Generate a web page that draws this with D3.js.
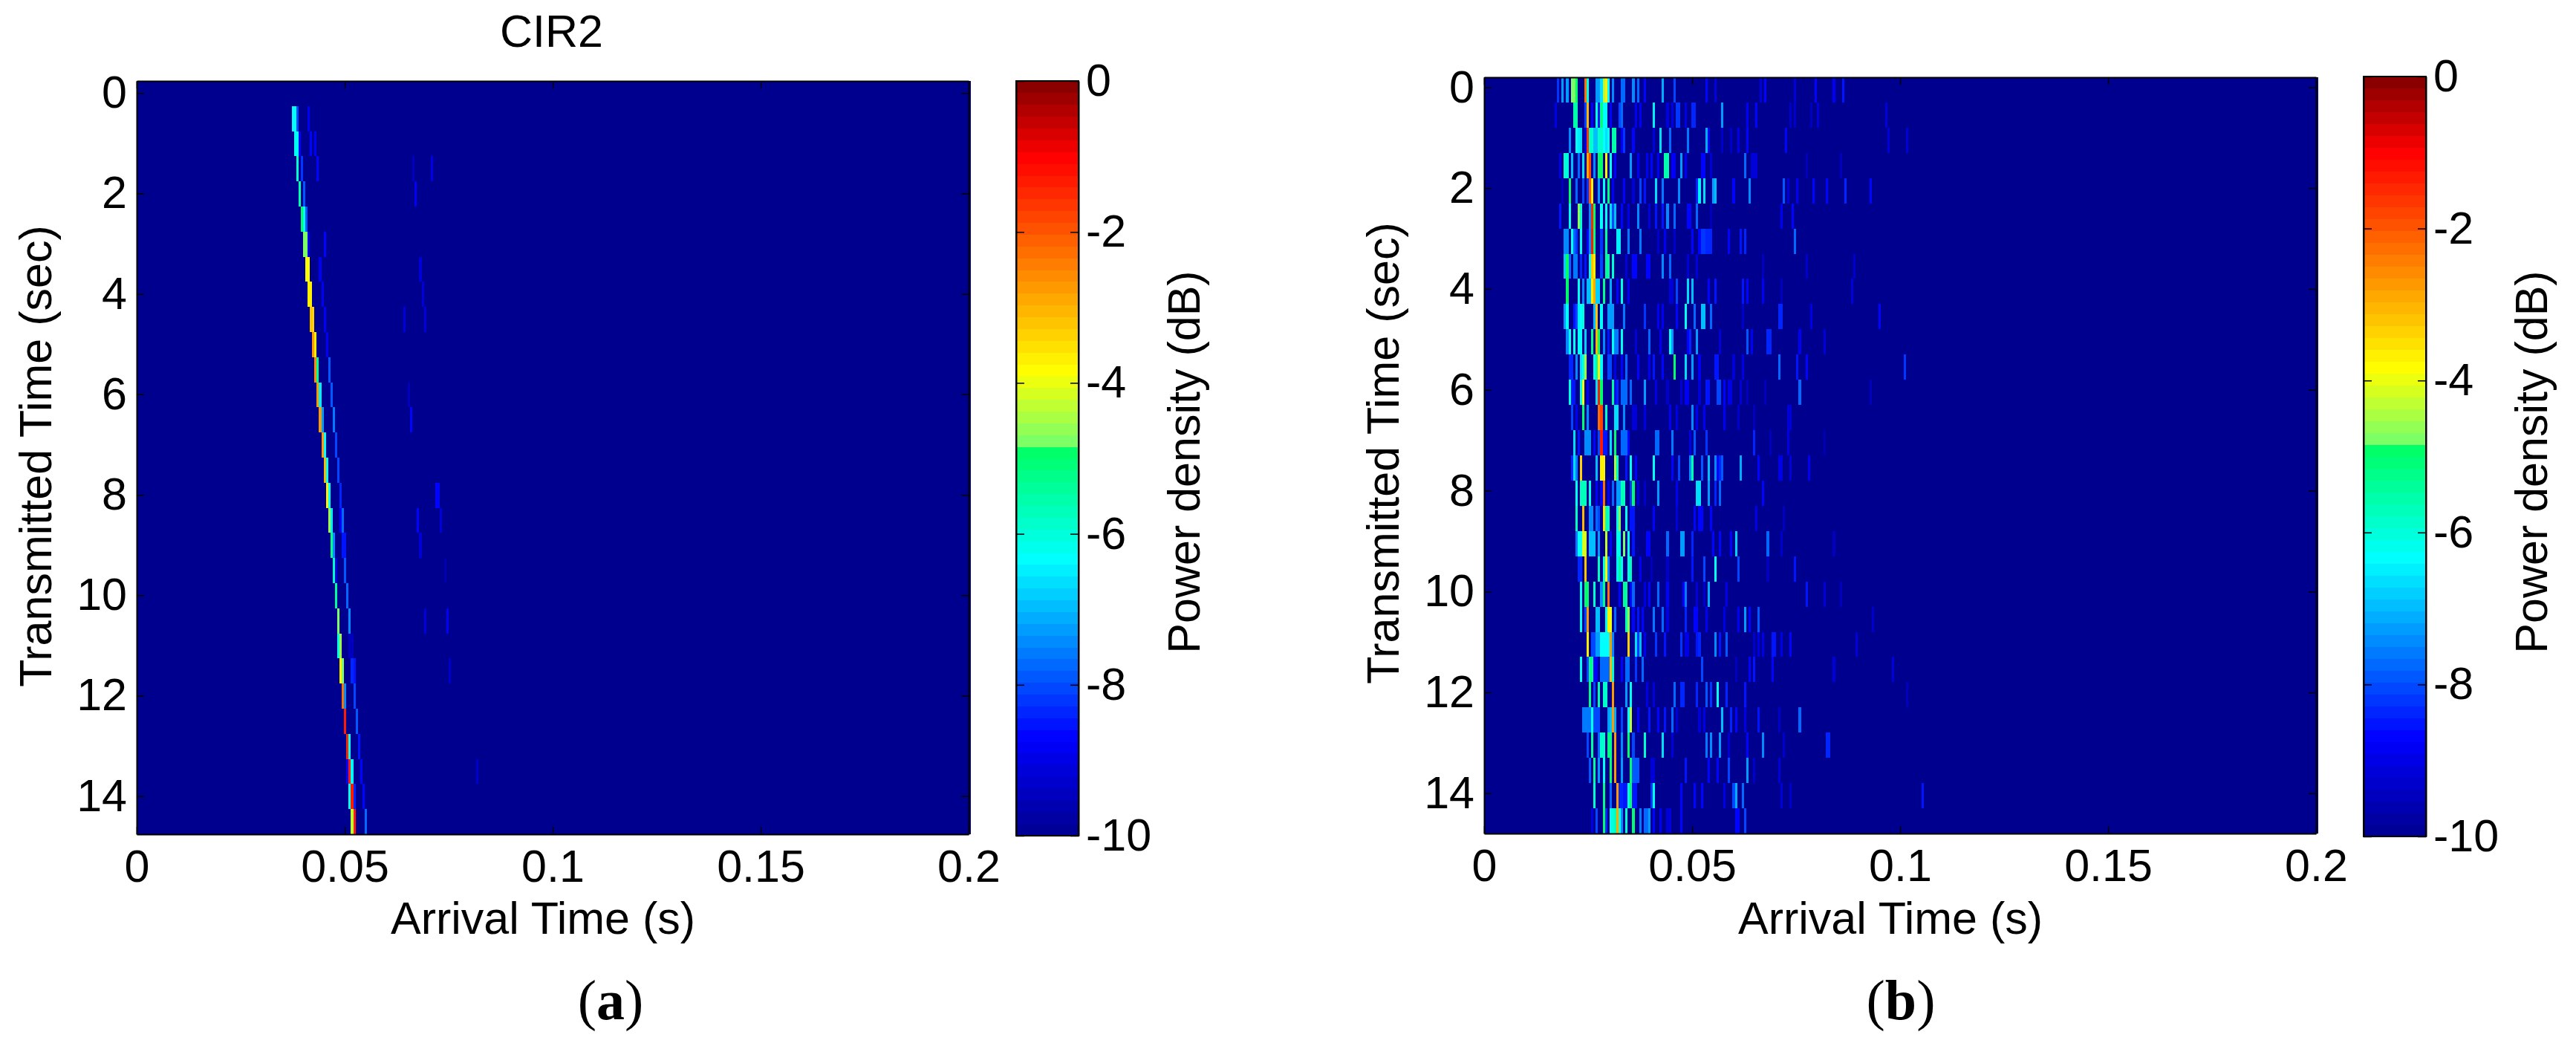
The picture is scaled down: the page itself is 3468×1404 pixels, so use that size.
<!DOCTYPE html>
<html>
<head>
<meta charset="utf-8">
<script src="https://cdnjs.cloudflare.com/ajax/libs/d3/7.8.5/d3.min.js"></script>
<style>
body { margin: 0; background: #fff; }
text { font-family: "Liberation Sans", Arial, sans-serif; fill: #000; }
</style>
</head>
<body>
<svg></svg>
<script>
var width = 3468;
var height = 1404;

var xTicks = [0, 0.05, 0.1, 0.15, 0.2];
var yTicks = [0, 2, 4, 6, 8, 10, 12, 14];
var colorTicks = [0, -2, -4, -6, -8, -10];

// colour map (dB -> colour), 64 levels
var colorDb = [-10, -8.7, -6.35, -4.9, -4.86, -3.85, -1.4, -1, 0];
var colorHex = ["#00008f", "#0000ff", "#00ffff", "#00ff66", "#70ff70", "#ffff00", "#ff2000", "#ff0000", "#800000"];

var binCount = 365;   // delay bins across 0..0.2 s
var rowSeconds = 0.5; // one column of the sounder every half second

// one list per transmitted time (row 0 = 0 s): [delay bin, power dB]
var rowsA = [
  [],
  [[68,-6.3],[69,-6.3],[70,-8],[75,-8.9]],
  [[69,-6.2],[70,-6.4],[71,-8.6],[76,-8.6],[78,-8.9]],
  [[70,-5.8],[72,-8.2],[79,-8.7],[121,-9.4],[129,-9]],
  [[71,-5.5],[73,-7.9],[122,-8.8]],
  [[72,-5],[73,-6.2],[74,-7.9]],
  [[73,-4.8],[74,-4.7],[75,-9],[82,-8.7]],
  [[74,-3.9],[75,-3.9],[80,-8.9],[124,-9.2]],
  [[75,-3.7],[76,-3.7],[81,-8.9],[125,-9.2]],
  [[76,-3.2],[77,-3.4],[82,-8.8],[117,-9.1],[126,-9.2]],
  [[77,-2.7],[78,-3.6],[83,-8.8]],
  [[78,-2.6],[79,-5.2],[84,-7.9]],
  [[79,-2.7],[80,-6.5],[85,-7.9],[119,-9.5]],
  [[80,-2.7],[81,-7.2],[86,-7.6],[120,-8.7]],
  [[81,-2.7],[82,-6.4],[87,-8]],
  [[82,-3.1],[83,-6.4],[88,-8]],
  [[83,-3.7],[84,-6.3],[89,-8.3],[131,-8.7],[132,-8.7]],
  [[84,-4.4],[85,-6.5],[89,-8.6],[90,-7.8],[123,-8.7],[133,-9.1]],
  [[85,-5.3],[86,-7.4],[90,-8.5],[91,-8.5],[124,-9.1]],
  [[86,-5.7],[87,-9],[91,-7.9],[135,-9.6]],
  [[87,-5.4],[92,-7.8]],
  [[88,-4.7],[93,-7.4],[126,-9.1],[136,-8.8]],
  [[88,-6.2],[89,-4.4],[93,-9.4],[94,-9.4]],
  [[89,-3.6],[90,-4.8],[94,-8.4],[95,-8.5],[137,-9.3]],
  [[90,-2.2],[91,-7.5],[95,-8]],
  [[91,-1.4],[96,-7.9]],
  [[92,-1.5],[93,-6.3],[97,-8.5]],
  [[92,-8.7],[93,-1.3],[94,-6.4],[98,-8.7],[149,-9.3]],
  [[93,-6.3],[94,-1.4],[95,-8.3],[99,-8.6]],
  [[94,-4.3],[95,-1.4],[100,-7.8]]
];

// panel (b) bins are counted from the first bin with any energy
var firstBinB = 30;
var rowsB = [
  [[2,-8.2],[4,-7.2],[6,-7.2],[8,-4.8],[9,-4.7],[10,-4.9],[14,-2.2],[15,-6],[19,-7.2],[20,-7.2],[21,-6.6],[22,-4.4],[23,-3.7],[24,-6.2],[26,-7.4],[30,-7.8],[31,-7.8],[35,-7.5],[37,-7.8],[40,-8.6],[48,-7.1],[53,-8],[67,-8.7],[71,-9.1],[91,-9.1],[93,-8.6],[106,-9.2],[115,-8.6],[123,-8.9],[127,-8.5]],
  [[1,-9],[9,-5.6],[10,-5.6],[14,-8],[15,-3],[17,-8.6],[19,-6],[20,-8.5],[21,-5.2],[22,-6.4],[23,-6.4],[25,-8.6],[29,-8],[30,-7.7],[36,-8.8],[38,-8.8],[44,-6.5],[50,-9],[52,-9],[54,-8.2],[55,-8.2],[58,-9],[61,-8.4],[62,-8.4],[74,-7.2],[85,-8.8],[89,-8.7],[104,-9.3],[106,-9.3],[113,-9.4],[116,-9.2],[146,-9.2]],
  [[7,-7.4],[10,-6.3],[11,-6.5],[12,-6.6],[14,-9],[15,-1.6],[16,-5.9],[17,-5.9],[18,-7],[19,-7],[20,-5.8],[21,-5.8],[22,-6.4],[23,-6.6],[24,-6.1],[26,-5.6],[27,-5.6],[30,-8.8],[31,-8.2],[35,-8.6],[44,-9.2],[47,-6.6],[51,-7.7],[59,-7.6],[67,-7.1],[68,-8.8],[74,-9.3],[78,-9.3],[81,-9],[85,-8.6],[102,-8.6],[147,-9.2],[155,-9.2]],
  [[3,-9],[5,-5.8],[6,-6],[8,-7],[11,-7.8],[13,-6.6],[15,-2.9],[16,-1.8],[18,-7.5],[20,-4.9],[21,-4.9],[23,-3.8],[25,-6.4],[27,-8.6],[34,-7.3],[37,-8.9],[41,-8.9],[43,-8.6],[46,-8.9],[49,-5.6],[50,-5.6],[52,-8.9],[53,-8.9],[56,-7.2],[58,-8.9],[65,-8.6],[66,-8.6],[69,-9.2],[84,-7.8],[87,-9.2],[88,-9.2],[89,-9.2],[111,-9.4],[126,-9.4]],
  [[4,-9.4],[7,-5],[10,-7.8],[13,-8],[15,-8.2],[16,-2],[17,-3.7],[20,-7.3],[22,-6.2],[24,-5.1],[26,-8.9],[31,-8.7],[35,-9.2],[38,-8],[40,-8.5],[45,-6.7],[48,-7.6],[55,-7.4],[63,-8.4],[64,-6.5],[66,-6.6],[70,-7.2],[71,-7],[79,-8.6],[86,-7.4],[101,-7.9],[103,-9.2],[107,-8.8],[114,-8.6],[120,-8.6],[128,-8.4],[139,-8.6]],
  [[3,-8.5],[7,-6.2],[11,-4.6],[12,-6],[16,-7.5],[17,-1.5],[18,-5],[21,-6.3],[23,-6.4],[25,-6.6],[26,-8],[27,-6.9],[30,-8.7],[33,-9],[37,-7.5],[42,-9.2],[45,-8.5],[48,-8.5],[50,-7.4],[53,-7.7],[59,-8.6],[60,-8.6],[63,-7.7],[69,-9.4],[100,-8.9],[105,-8.6]],
  [[5,-7.5],[6,-7.5],[8,-6.2],[9,-7.7],[10,-8.2],[12,-6.3],[15,-8.7],[16,-7.5],[17,-1.4],[18,-5.3],[21,-8.2],[23,-5.4],[28,-6.5],[29,-6.5],[33,-7.6],[38,-7.6],[46,-9.3],[49,-8.8],[53,-9.3],[61,-8.6],[64,-8.6],[65,-8.2],[66,-8.2],[67,-8.4],[68,-8.4],[69,-8.4],[77,-8.7],[82,-8.5],[84,-8.4],[106,-7.8]],
  [[5,-6.8],[6,-5],[7,-7.7],[9,-7.6],[10,-7.6],[12,-8.4],[14,-8.5],[16,-6.4],[17,-3.2],[18,-3.6],[21,-8],[23,-5.4],[24,-5.4],[26,-5.9],[32,-9.1],[35,-8.6],[36,-8.6],[41,-8.6],[42,-8.6],[48,-7.5],[51,-7.8],[59,-9.2],[63,-9.2],[92,-9.4],[111,-9.3],[132,-9.3]],
  [[6,-5],[11,-6.3],[13,-7.4],[15,-6.9],[16,-6.9],[17,-3.6],[18,-2.9],[19,-6.8],[20,-6.8],[22,-5.2],[25,-7.1],[28,-8.7],[30,-6],[33,-8.8],[51,-9.2],[52,-9.2],[54,-8],[59,-6.6],[61,-7],[68,-8.6],[71,-8.5],[83,-8.5],[85,-8.7],[92,-8.9],[100,-9.5],[131,-9.2]],
  [[5,-7.3],[6,-6.3],[9,-8.5],[10,-8],[11,-6.5],[12,-6.4],[13,-6],[18,-7],[19,-3.2],[21,-6.3],[24,-7.3],[25,-7.3],[26,-7.3],[31,-7.6],[40,-8.2],[46,-8.9],[48,-8.9],[54,-8.6],[58,-6.3],[62,-7.7],[65,-7],[66,-7],[69,-7.7],[83,-9.3],[99,-8.4],[100,-8.4],[113,-9],[143,-8.7]],
  [[6,-7.4],[7,-6.2],[9,-6.4],[11,-6.3],[12,-6.3],[14,-6.8],[17,-5.2],[19,-3],[20,-5],[22,-7.5],[24,-8.5],[26,-6.4],[27,-7.6],[28,-7.6],[30,-6.1],[36,-9.2],[42,-7.8],[47,-8.8],[51,-6.3],[52,-7.2],[59,-8.7],[60,-8.4],[63,-7.2],[73,-9.2],[85,-7.9],[87,-8.8],[94,-8.4],[95,-8.4],[108,-8.8],[119,-9.2]],
  [[7,-8.3],[8,-8.3],[10,-7.4],[12,-6.6],[13,-6.2],[14,-4.5],[18,-6.2],[19,-5.5],[20,-3.6],[21,-6.4],[24,-8],[25,-8],[27,-9],[30,-8.7],[32,-7.7],[37,-8.7],[42,-8.8],[44,-8.5],[48,-8.7],[53,-5],[58,-6.7],[61,-7.3],[64,-8.9],[71,-8.5],[72,-8.5],[79,-9.2],[83,-9],[99,-7.7],[107,-8.5],[111,-8.6],[154,-8.2]],
  [[7,-6],[8,-8.5],[9,-8.5],[12,-6],[13,-4],[15,-8.8],[19,-6.6],[20,-1.3],[21,-5],[26,-5.3],[27,-8.7],[28,-8.3],[30,-7.7],[31,-7.7],[32,-7.7],[34,-7.8],[40,-7.2],[45,-9],[50,-9.3],[56,-9.1],[58,-8.8],[59,-8.8],[64,-9.2],[67,-8.5],[68,-8.5],[72,-8],[73,-8],[75,-8.6],[77,-9],[78,-9],[82,-9.2],[85,-9.4],[93,-9.4],[108,-7.7],[139,-9.5]],
  [[8,-8],[10,-8.8],[13,-5],[15,-7.5],[20,-2.2],[21,-1.8],[23,-5.7],[27,-6.6],[28,-6.6],[31,-7.5],[35,-9.2],[36,-9.2],[40,-9],[51,-8.8],[54,-9],[61,-7.4],[63,-8.8],[66,-8.8],[75,-8.8],[81,-9.3],[88,-9.4],[103,-9.1],[104,-9.1]],
  [[9,-6.6],[11,-8.5],[14,-7.4],[15,-7.4],[16,-7.4],[18,-8.6],[20,-8],[21,-1.4],[22,-8.5],[23,-8.5],[25,-6.7],[27,-5],[30,-7.7],[31,-7.7],[32,-7.7],[33,-8.6],[45,-7.8],[46,-7.8],[52,-7.6],[60,-9],[62,-7.9],[67,-8.2],[88,-8.4],[95,-9.5],[103,-9],[119,-9.6]],
  [[8,-8.3],[9,-6.6],[10,-7.6],[12,-3.3],[19,-7],[21,-3.7],[22,-3.7],[27,-4.5],[28,-5.5],[32,-8.5],[34,-6.3],[36,-8.6],[44,-6.3],[52,-8.6],[55,-8.1],[60,-7.5],[61,-5.6],[65,-7.9],[68,-7],[71,-7.5],[72,-8.6],[73,-8.4],[74,-7.9],[82,-7.1],[90,-8.7],[99,-9],[100,-9],[104,-9.2],[112,-8.9]],
  [[10,-6.3],[12,-5.7],[13,-5.7],[14,-5.7],[16,-6.1],[19,-8.7],[21,-8.8],[22,-2.2],[24,-8.8],[26,-7.8],[28,-7.2],[29,-7.2],[30,-5.7],[31,-5.7],[34,-8.2],[35,-5],[37,-9.2],[40,-9.3],[46,-7.3],[54,-8.8],[63,-6.7],[64,-6.7],[68,-7.3],[71,-8.4],[73,-7.8],[92,-8.7]],
  [[10,-5.7],[13,-3],[16,-7.5],[17,-7.5],[19,-7.7],[20,-8],[22,-3.5],[23,-5.7],[24,-5.7],[28,-6.2],[29,-4.6],[32,-6.1],[34,-8.5],[35,-8.5],[44,-8.6],[54,-9.2],[62,-8.7],[64,-8.6],[65,-8.6],[69,-8.6],[89,-9],[101,-9.4]],
  [[10,-7.6],[11,-6.4],[12,-6.4],[13,-4.2],[14,-4.2],[16,-7],[17,-7],[18,-7],[20,-7.2],[23,-4.3],[25,-8.6],[28,-6.2],[29,-6.2],[31,-4.8],[33,-6.3],[35,-8.5],[41,-8.7],[42,-8.7],[50,-7.8],[56,-7.3],[57,-7.3],[61,-8.4],[70,-8.6],[73,-8.7],[78,-8.6],[80,-6.8],[94,-7.7],[100,-9.3],[123,-9.5]],
  [[11,-8.4],[12,-8.4],[14,-3.2],[20,-5.7],[22,-6.2],[23,-3.8],[24,-7.5],[28,-6.5],[29,-5.4],[30,-6.1],[33,-6],[34,-5.7],[38,-8.8],[43,-9.4],[50,-9.3],[61,-8.5],[66,-8.1],[71,-6.3],[81,-8],[94,-9.5],[106,-8.5]],
  [[12,-6.3],[14,-5],[15,-5],[18,-5.8],[21,-7.4],[22,-5.2],[24,-2.2],[29,-8.6],[31,-5.4],[32,-5.4],[34,-8.7],[35,-7.8],[40,-9],[42,-8.7],[46,-7.7],[50,-8.7],[57,-8.7],[58,-7.6],[63,-9.2],[66,-9.3],[68,-7.1],[76,-9],[111,-8.5],[119,-9.2],[126,-9.4]],
  [[12,-6.3],[14,-8],[15,-2.7],[19,-7],[20,-7],[23,-6.2],[24,-3.6],[25,-4],[27,-7.8],[32,-5.7],[33,-4.6],[35,-8.6],[37,-8.5],[39,-8.6],[44,-7.6],[48,-7.7],[50,-9],[58,-8.4],[62,-8.6],[63,-8.6],[67,-8.8],[75,-9],[81,-8.9],[84,-7.3],[86,-8.6],[90,-7.9],[140,-9.3]],
  [[15,-3.6],[17,-8],[18,-8],[19,-7.3],[20,-7.3],[21,-6.4],[22,-6.4],[23,-6.3],[24,-6.4],[25,-2.8],[26,-7.5],[33,-3.3],[36,-6.6],[37,-8.2],[38,-6.9],[40,-8.8],[45,-8.2],[49,-8.5],[56,-8.2],[58,-9],[59,-9],[63,-8.5],[64,-8.4],[71,-7.4],[73,-8.5],[76,-7.9],[88,-9.3],[90,-9],[92,-9],[96,-8.5],[97,-8.5],[100,-9],[104,-8.6],[133,-9.1]],
  [[12,-6.3],[15,-8],[16,-5.2],[17,-5.2],[18,-8.6],[19,-8.6],[21,-7.7],[22,-7.7],[23,-7.7],[24,-7.7],[25,-3],[26,-5.9],[30,-8.7],[32,-7.7],[33,-7.7],[36,-8.2],[39,-7.8],[65,-8],[80,-9.5],[86,-8.6],[88,-8.5],[96,-8.7],[123,-9.2],[149,-9.1]],
  [[16,-5.3],[18,-8],[20,-5.6],[22,-5.8],[23,-5.8],[26,-2.7],[32,-7.3],[34,-6.2],[41,-9],[44,-9.2],[53,-7.8],[56,-8.4],[57,-8.4],[63,-8.4],[67,-7.9],[69,-8.2],[72,-6.3],[76,-8.4],[84,-8.5],[155,-9.4]],
  [[13,-7.6],[14,-7.6],[15,-7.6],[16,-7.6],[17,-6.2],[18,-8],[19,-8],[20,-8],[24,-7.3],[25,-6.9],[26,-2.7],[27,-7.1],[30,-8.1],[33,-6.3],[34,-4.3],[37,-8.6],[42,-8.5],[46,-8.6],[49,-8.5],[52,-7.8],[54,-9.2],[64,-9.2],[66,-9],[74,-7],[78,-8.4],[80,-8.7],[84,-9],[90,-8.5],[99,-9.3],[108,-7.8]],
  [[15,-8],[17,-5.4],[20,-7.7],[21,-5.9],[22,-5.9],[24,-5.2],[25,-5.2],[27,-2.8],[30,-7.4],[33,-5],[35,-8],[40,-5.9],[48,-6.7],[52,-9.1],[67,-7.6],[69,-7.5],[73,-7.2],[77,-9.2],[85,-8.7],[92,-7.5],[101,-9.3],[120,-8.4],[121,-8.4]],
  [[16,-7.9],[18,-5.4],[20,-7.2],[22,-6.4],[25,-5],[27,-2.8],[30,-7.2],[34,-4.9],[35,-7.9],[36,-7.9],[37,-7.9],[43,-9.1],[44,-9.1],[58,-8.5],[68,-8.6],[72,-8.6],[77,-8],[85,-7.3],[88,-9.3],[99,-9.1]],
  [[18,-5.9],[22,-5.2],[25,-7.7],[28,-2.8],[29,-8.3],[30,-8.3],[31,-8.5],[32,-8.5],[33,-6],[34,-5],[35,-8.5],[36,-8.5],[43,-8.2],[44,-6.2],[56,-8.7],[62,-8.6],[65,-8.6],[75,-9],[79,-8.1],[80,-7.1],[83,-7.8],[100,-9.2],[104,-9.3],[162,-8.5]],
  [[17,-9],[19,-8],[22,-5],[23,-8.4],[25,-6.1],[26,-6],[27,-5.7],[28,-2.9],[29,-6.2],[30,-7.4],[32,-5.8],[35,-5],[38,-7.6],[40,-7.7],[41,-7.7],[42,-7.2],[44,-8.6],[47,-8.8],[50,-9.1],[51,-9.1],[56,-8.7],[80,-8.6],[81,-8.6],[84,-8]]
];

var colorScale = d3.scaleLinear()
                    .domain(colorDb)
                    .range(colorHex)
                    .clamp(true);

// 64 flat levels, like the figure's colormap
function level(v) {
    var i = Math.min(63, Math.floor((v + 10) / 10 * 64));
    return colorScale(-10 + (i + 0.5) * 10 / 64);
}

var svg = d3.select("svg")
            .attr("width", width)
            .attr("height", height)
            .style("display", "block");

svg.append("rect").attr("width", width).attr("height", height).attr("fill", "#fff");

var fontSize = 61;

function drawPanel(p) {
    var x = d3.scaleLinear().domain([0, 0.2]).range([p.left, p.left + 1120]);
    var y = d3.scaleLinear().domain([p.t0, p.t0 + 15]).range([p.top, p.bottom]);
    var binSeconds = 0.2 / binCount;

    var g = svg.append("g").attr("class", "panel");

    // image sticks out a little past the right axis line in the figure
    g.append("rect")
        .attr("x", p.left)
        .attr("y", p.top)
        .attr("width", 1120 + 3)
        .attr("height", p.bottom - p.top)
        .attr("fill", colorScale(-10));

    p.rows.forEach(function (row, k) {
        g.selectAll(null)
            .data(row)
            .enter()
            .append("rect")
                .attr("shape-rendering", "crispEdges")
                .attr("x", d => x((d[0] + p.firstBin) * binSeconds))
                .attr("y", y(p.t0 + k * rowSeconds))
                .attr("width", d => x((d[0] + p.firstBin + 1) * binSeconds) - x((d[0] + p.firstBin) * binSeconds))
                .attr("height", y(p.t0 + rowSeconds) - y(p.t0))
                .attr("fill", d => level(d[1]));
    });

    var bottom = d3.axisBottom(x).tickValues(xTicks).tickFormat(d => d).tickSizeInner(-10).tickSizeOuter(0).tickPadding(21);
    var top = d3.axisTop(x).tickValues(xTicks).tickFormat("").tickSizeInner(-10).tickSizeOuter(0);
    var left = d3.axisLeft(y).tickValues(yTicks).tickSizeInner(-10).tickSizeOuter(0).tickPadding(13);
    var right = d3.axisRight(y).tickValues(yTicks).tickFormat("").tickSizeInner(-10).tickSizeOuter(0);

    var axes = [
        g.append("g").attr("transform", "translate(0," + p.bottom + ")").call(bottom),
        g.append("g").attr("transform", "translate(0," + p.top + ")").call(top),
        g.append("g").attr("transform", "translate(" + p.left + ",0)").call(left),
        g.append("g").attr("transform", "translate(" + (p.left + 1120) + ",0)").call(right)
    ];
    axes.forEach(function (a) {
        a.selectAll("path").attr("stroke", "#000").attr("stroke-width", 2);
        a.selectAll("line").attr("stroke", "#000").attr("stroke-width", 1.5);
        a.selectAll("text").attr("font-size", fontSize).attr("font-family", "Liberation Sans").attr("fill", "#000");
    });

    g.append("text")
        .attr("x", p.left + 547)
        .attr("y", 1257)
        .attr("font-size", fontSize)
        .attr("text-anchor", "middle")
        .text("Arrival Time (s)");

    g.append("text")
        .attr("transform", "translate(" + (p.left - 115) + "," + p.ylabelY + ") rotate(-90)")
        .attr("font-size", fontSize)
        .attr("text-anchor", "middle")
        .text("Transmitted Time (sec)");

    // colour bar
    var c = d3.scaleLinear().domain([0, -10]).range([p.barTop, p.barBottom]);
    var levels = d3.range(64);
    g.selectAll(null)
        .data(levels)
        .enter()
        .append("rect")
            .attr("shape-rendering", "crispEdges")
            .attr("x", p.barLeft)
            .attr("width", 84)
            .attr("y", d => c(-10 + (d + 1) * 10 / 64))
            .attr("height", (p.barBottom - p.barTop) / 64 + 0.5)
            .attr("fill", d => level(-10 + (d + 0.5) * 10 / 64));

    var barRight = d3.axisRight(c).tickValues(colorTicks).tickFormat(d => String(d)).tickSizeInner(-11).tickSizeOuter(0).tickPadding(10);
    var barLeft = d3.axisLeft(c).tickValues(colorTicks).tickFormat("").tickSizeInner(-11).tickSizeOuter(0);
    var barAxes = [
        g.append("g").attr("transform", "translate(" + (p.barLeft + 84) + ",0)").call(barRight),
        g.append("g").attr("transform", "translate(" + p.barLeft + ",0)").call(barLeft)
    ];
    barAxes.forEach(function (a) {
        a.selectAll("path").attr("stroke", "#000").attr("stroke-width", 2);
        a.selectAll("line").attr("stroke", "#000").attr("stroke-width", 1.5);
        a.selectAll("text").attr("font-size", fontSize).attr("font-family", "Liberation Sans").attr("fill", "#000");
    });
    g.append("rect")
        .attr("x", p.barLeft).attr("y", p.barTop)
        .attr("width", 84).attr("height", p.barBottom - p.barTop)
        .attr("fill", "none").attr("stroke", "#000").attr("stroke-width", 2);

    g.append("text")
        .attr("transform", "translate(" + (p.barLeft + 247) + ",622) rotate(-90)")
        .attr("font-size", fontSize)
        .attr("text-anchor", "middle")
        .text("Power density (dB)");

    // (a) / (b) caption, letter in bold serif
    var cap = g.append("text")
        .attr("x", p.captionX)
        .attr("y", 1372)
        .attr("text-anchor", "middle")
        .attr("font-size", 76)
        .style("font-family", "'Liberation Serif', serif");
    cap.append("tspan").text("(");
    cap.append("tspan").attr("font-weight", "bold").text(p.letter);
    cap.append("tspan").text(")");
}

drawPanel({
    rows: rowsA, firstBin: 0, left: 184, top: 109, bottom: 1123, t0: -0.24,
    ylabelY: 614, barLeft: 1368, barTop: 109, barBottom: 1125,
    captionX: 822, letter: "a"
});

drawPanel({
    rows: rowsB, firstBin: firstBinB, left: 1998, top: 104, bottom: 1122, t0: -0.2,
    ylabelY: 610, barLeft: 3182, barTop: 103, barBottom: 1126,
    captionX: 2559, letter: "b"
});

svg.append("text")
    .attr("x", 673)
    .attr("y", 63)
    .attr("font-size", fontSize)
    .text("CIR2");
</script>
</body>
</html>
